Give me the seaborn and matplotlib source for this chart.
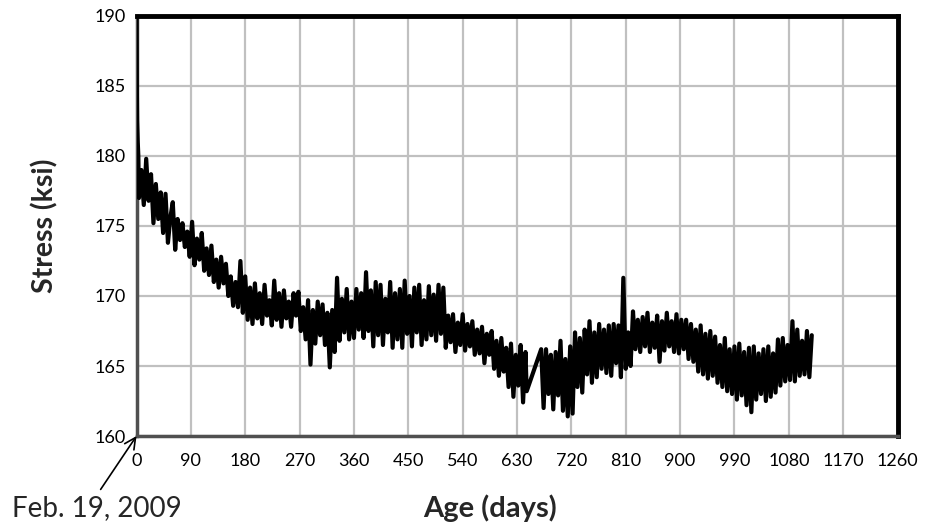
import numpy as np
import pandas as pd
import matplotlib
matplotlib.use("Agg")
import matplotlib.pyplot as plt
import seaborn as sns

# ---------------- data ----------------
start_days = [0, 0.5, 1, 2, 3]
start_stress = [190.0, 185.0, 182.5, 181.0, 180.0]

seg1_days = list(range(4, 645, 4)) + [646]
seg1_stress = [
    177.0, 179.0, 176.5, 179.8, 176.8, 178.7, 175.2, 178.0, 175.5, 177.4,
    174.5, 177.3, 173.8, 175.6, 176.7, 173.3, 175.5, 174.0, 175.2, 173.5,
    174.6, 172.8, 175.3, 172.2, 174.1, 172.6, 174.5, 171.8, 173.4, 171.5,
    173.6, 171.0, 172.6, 170.6, 172.8, 170.9, 172.3, 170.0, 171.4, 169.3,
    171.0, 169.2, 172.5, 168.8, 171.4, 168.3, 170.6, 168.0, 170.9, 168.4,
    170.2, 168.0, 170.8, 168.6, 169.7, 167.9, 171.1, 168.3, 170.2, 167.8,
    170.4, 168.4, 169.6, 167.8, 170.2, 168.6, 170.3, 167.5, 169.2, 166.9,
    169.7, 165.1, 169.0, 166.6, 169.6, 167.2, 169.4, 166.5, 168.8, 164.9,
    169.0, 166.0, 171.3, 166.8, 169.8, 167.4, 170.5, 166.9, 169.6, 167.0,
    170.5, 167.6, 170.2, 167.0, 171.7, 167.5, 170.4, 166.4, 171.0, 167.2,
    170.8, 166.5, 169.8, 167.4, 171.0, 166.3, 170.2, 166.9, 170.5, 166.3,
    171.1, 167.3, 170.0, 166.4, 170.6, 167.4, 170.8, 166.5, 169.7, 166.9,
    170.7, 167.2, 170.1, 166.8, 170.8, 167.3, 170.6, 166.3, 168.6, 166.7,
    168.7, 166.0, 168.1, 166.5, 168.7, 166.1, 168.0, 166.4, 168.2, 165.8,
    167.6, 165.9, 167.8, 165.2, 167.3, 165.8, 167.5, 164.8, 166.8, 164.3,
    167.0, 164.6, 166.3, 163.5, 166.6, 162.8, 165.8, 163.6, 166.5, 162.4,
    166.0, 163.2,
]

seg2_days = [670] + list(range(674, 1119, 4))
seg2_stress = [
    166.2,
    162.0, 166.2, 163.0, 165.8, 161.9, 166.0, 162.9, 166.8, 161.8, 165.5,
    161.4, 166.4, 161.6, 167.4, 163.5, 167.0, 163.1, 167.6, 164.4, 168.2,
    163.8, 167.4, 164.2, 168.0, 164.8, 167.6, 164.5, 167.9, 164.3, 168.0,
    165.2, 167.9, 164.2, 171.3, 164.8, 167.4, 165.0, 168.9, 166.2, 168.3,
    166.0, 168.5, 166.4, 168.8, 166.0, 168.1, 166.3, 168.6, 165.3, 168.2,
    166.1, 168.8, 166.4, 168.2, 166.0, 168.7, 165.9, 168.3, 166.2, 168.3,
    165.5, 168.0, 165.3, 167.6, 164.6, 167.9, 164.4, 167.3, 164.1, 167.5,
    164.3, 167.1, 163.8, 166.5, 163.5, 167.0, 163.2, 166.2, 163.0, 166.4,
    162.6, 166.6, 162.9, 166.0, 162.2, 166.3, 161.7, 166.4, 162.6, 165.9,
    163.0, 166.2, 162.5, 166.4, 162.8, 165.9, 163.1, 166.9, 163.6, 167.0,
    163.9, 166.5, 164.0, 168.2, 163.9, 167.6, 164.3, 166.8, 164.4, 167.5,
    164.2, 167.2,
]

age_days = start_days + seg1_days + seg2_days
stress_ksi = start_stress + seg1_stress + seg2_stress
assert len(age_days) == len(stress_ksi)

x_ticks = [0, 90, 180, 270, 360, 450, 540, 630, 720, 810, 900, 990, 1080, 1170, 1260]
y_ticks = [160, 165, 170, 175, 180, 185, 190]

df = pd.DataFrame({"Age (days)": age_days, "Stress (ksi)": stress_ksi})

# ---------------- style ----------------
sns.set_style("white")
plt.rcParams["font.family"] = ["Lato", "DejaVu Sans"]

fig = plt.figure(figsize=(9.25, 5.31), dpi=100)
ax = fig.add_axes([0.1476, 0.1789, 0.8227, 0.7910])

sns.lineplot(data=df, x="Age (days)", y="Stress (ksi)", ax=ax,
             color="black", linewidth=3.0, sort=False, estimator=None,
             zorder=3)

ax.set_xlim(0, 1260)
ax.set_ylim(160, 190)
ax.set_xticks(x_ticks)
ax.set_yticks(y_ticks)
ax.set_xticklabels([str(t) for t in x_ticks], fontsize=13)
ax.set_yticklabels([str(t) for t in y_ticks], fontsize=13)

ax.grid(True, color="#c0c0c0", linewidth=1.6, zorder=0)
ax.set_axisbelow(True)

ax.tick_params(axis="x", direction="out", length=7, width=1.3,
               color="#8c8c8c", pad=5, labelcolor="black")
ax.tick_params(axis="y", direction="out", length=5, width=1.3,
               color="#8c8c8c", pad=3, labelcolor="black")

for side in ["top", "right"]:
    ax.spines[side].set_color("black")
    ax.spines[side].set_linewidth(3.5)
for side in ["left", "bottom"]:
    ax.spines[side].set_color("#505050")
    ax.spines[side].set_linewidth(2.5)

ax.set_xlabel("")
ax.set_ylabel("")
fig.text(45 / 925, 1 - 226 / 531, "Stress (ksi)", fontsize=20.5,
         fontweight="bold", ha="center", va="center", rotation=90)
fig.text(490 / 925, 1 - 508 / 531, "Age (days)", fontsize=21,
         fontweight="bold", ha="center", va="center")

ax.annotate("Feb. 19, 2009", xy=(0, 160), xycoords="data",
            xytext=(12 / 925, 1 - 508 / 531), textcoords="figure fraction",
            fontsize=20, ha="left", va="center",
            arrowprops=dict(arrowstyle="->", color="black", lw=1.2,
                            shrinkA=2, shrinkB=0,
                            relpos=(0.5, 1.0)),
            annotation_clip=False)

fig.savefig("out.png", dpi=100)
